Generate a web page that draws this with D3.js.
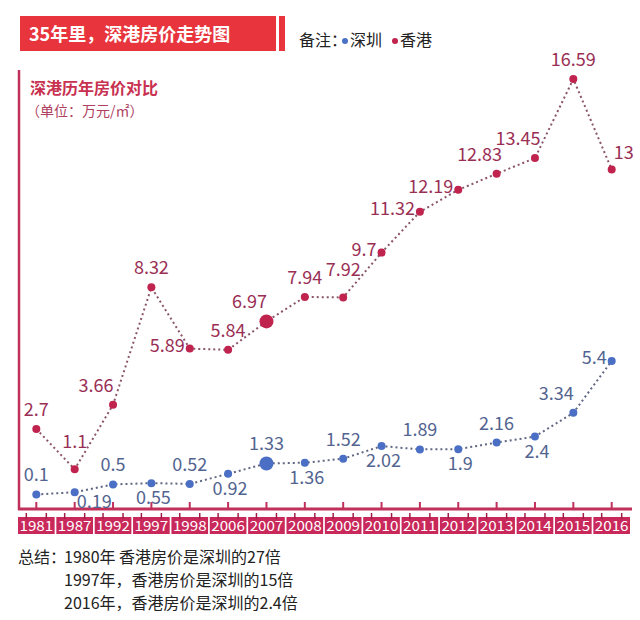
<!DOCTYPE html>
<html>
<head>
<meta charset="utf-8">
<script src="https://cdn.jsdelivr.net/npm/d3@7"></script>
<style>
  body { margin: 0; background: #fff; }
  svg text { font-family: "Noto Sans CJK SC", "Noto Sans", sans-serif; }
</style>
</head>
<body>
<div class="chart"></div>
<script>
// data
var years = ["1981","1987","1992","1997","1998","2006","2007","2008","2009","2010","2011","2012","2013","2014","2015","2016"];
var hongkong = [2.7, 1.1, 3.66, 8.32, 5.89, 5.84, 6.97, 7.94, 7.92, 9.7, 11.32, 12.19, 12.83, 13.45, 16.59, 13];
var shenzhen = [0.1, 0.19, 0.5, 0.55, 0.52, 0.92, 1.33, 1.36, 1.52, 2.02, 1.89, 1.9, 2.16, 2.4, 3.34, 5.4];
// where each value label sits relative to its dot
var hkLabelPos = ["a","A","al","a","l","a","al","a","A","l","l","l","al","al","a","ar"];
var szLabelPos = ["a","br","a","b","a","b","a","b","a","b","a","b","a","b","al","l"];
var highlight = "2007";
var notes = ["1980年 香港房价是深圳的27倍", "1997年，香港房价是深圳的15倍", "2016年，香港房价是深圳的2.4倍"];

var W = 640, H = 620;
var svg = d3.select(".chart").append("svg")
	.attr("width", W)
	.attr("height", H);

var x = d3.scaleBand().domain(years).range([18, 630]).paddingInner(0.045);
var cx = function(d) { return x(d) + x.bandwidth() / 2; };
var y = d3.scaleLinear().domain([0, 16.59]).range([497, 79]);

var axisColor = "#c0305a";

// title block
svg.append("rect").attr("x", 20).attr("y", 16).attr("width", 256).attr("height", 35).attr("fill", "#e8343c");
svg.append("rect").attr("x", 279).attr("y", 16).attr("width", 6).attr("height", 35).attr("fill", "#e8343c");
svg.append("text").attr("x", 29).attr("y", 41)
	.attr("fill", "#fff").attr("font-size", 18).attr("font-weight", "bold")
	.text("35年里，深港房价走势图");

// legend
var legend = svg.append("g").attr("font-size", 16).attr("fill", "#222");
legend.append("text").attr("x", 299).attr("y", 46).text("备注：");
legend.append("circle").attr("cx", 345).attr("cy", 41).attr("r", 3).attr("fill", "#4a72c4");
legend.append("text").attr("x", 350).attr("y", 46).text("深圳");
legend.append("circle").attr("cx", 395).attr("cy", 41).attr("r", 3).attr("fill", "#c0234e");
legend.append("text").attr("x", 400).attr("y", 46).text("香港");

// subtitle
svg.append("text").attr("x", 30).attr("y", 94)
	.attr("fill", "#c8314f").attr("font-size", 16).attr("font-weight", "bold")
	.text("深港历年房价对比");
svg.append("text").attr("x", 26).attr("y", 116)
	.attr("fill", "#b04060").attr("font-size", 14)
	.text("（单位：万元/㎡）");

// axes
svg.append("line").attr("x1", 19).attr("x2", 19).attr("y1", 70).attr("y2", 510)
	.attr("stroke", axisColor).attr("stroke-width", 2.5);
svg.append("line").attr("x1", 18).attr("x2", 632).attr("y1", 509).attr("y2", 509)
	.attr("stroke", axisColor).attr("stroke-width", 3);
svg.selectAll(".tick-up").data(years).enter().append("line")
	.attr("class", "tick-up")
	.attr("x1", cx).attr("x2", cx).attr("y1", 502).attr("y2", 509)
	.attr("stroke", axisColor).attr("stroke-width", 2);

// year boxes
var boxes = svg.selectAll(".year").data(years).enter().append("g").attr("class", "year");
boxes.append("rect")
	.attr("x", function(d) { return x(d); })
	.attr("y", 517).attr("width", x.bandwidth()).attr("height", 17)
	.attr("fill", "#c8285a");
boxes.append("text")
	.attr("x", cx).attr("y", 531)
	.attr("text-anchor", "middle").attr("fill", "#fff")
	.attr("font-size", 14).attr("textLength", x.bandwidth() - 3).attr("lengthAdjust", "spacingAndGlyphs")
	.attr("font-family", "Roboto, sans-serif")
	.text(function(d) { return d; });
[-10, 10].forEach(function(off) {
	svg.selectAll(".pin" + (off > 0 ? "r" : "l")).data(years).enter().append("line")
		.attr("x1", function(d) { return cx(d) + off; })
		.attr("x2", function(d) { return cx(d) + off; })
		.attr("y1", 513).attr("y2", 519)
		.attr("stroke", "#a01e46").attr("stroke-width", 1.5);
});

// label placement
function labelAttrs(code) {
	switch (code) {
		case "a":  return { dx: 0, dy: -13, anchor: "middle" };
		case "A":  return { dx: 0, dy: -21, anchor: "middle" };
		case "al": return { dx: -17, dy: -13, anchor: "middle" };
		case "ar": return { dx: 2, dy: -10, anchor: "start" };
		case "l":  return { dx: -5, dy: 3, anchor: "end" };
		case "b":  return { dx: 2, dy: 21, anchor: "middle" };
		case "br": return { dx: 2, dy: 16, anchor: "start" };
	}
}

function drawSeries(values, positions, lineColor, dotColor, textColor) {
	var pts = years.map(function(yr, i) { return { year: yr, v: values[i], pos: positions[i] }; });
	var line = d3.line().x(function(d) { return cx(d.year); }).y(function(d) { return y(d.v); });
	svg.append("path").datum(pts)
		.attr("d", line)
		.attr("fill", "none")
		.attr("stroke", lineColor)
		.attr("stroke-width", 2)
		.attr("stroke-dasharray", "2,3");
	svg.selectAll(null).data(pts).enter().append("circle")
		.attr("cx", function(d) { return cx(d.year); })
		.attr("cy", function(d) { return y(d.v); })
		.attr("r", function(d) { return d.year == highlight ? 7 : 4; })
		.attr("fill", dotColor);
	svg.selectAll(null).data(pts).enter().append("text")
		.attr("x", function(d) { return cx(d.year) + labelAttrs(d.pos).dx; })
		.attr("y", function(d) { return y(d.v) + labelAttrs(d.pos).dy; })
		.attr("text-anchor", function(d) { return labelAttrs(d.pos).anchor; })
		.attr("fill", textColor)
		.attr("font-size", 18)
		.attr("font-family", "'Open Sans', sans-serif")
		.text(function(d) { return d.v; });
}

drawSeries(hongkong, hkLabelPos, "#8a5566", "#c0234e", "#9a2f55");
drawSeries(shenzhen, szLabelPos, "#5f6782", "#4a6fc4", "#52648f");

// notes
var foot = svg.append("g").attr("font-size", 16).attr("fill", "#222");
foot.append("text").attr("x", 18).attr("y", 563).text("总结：");
foot.selectAll(null).data(notes).enter().append("text")
	.attr("x", 64)
	.attr("y", function(d, i) { return 563 + i * 23; })
	.text(function(d) { return d; });
</script>
</body>
</html>
